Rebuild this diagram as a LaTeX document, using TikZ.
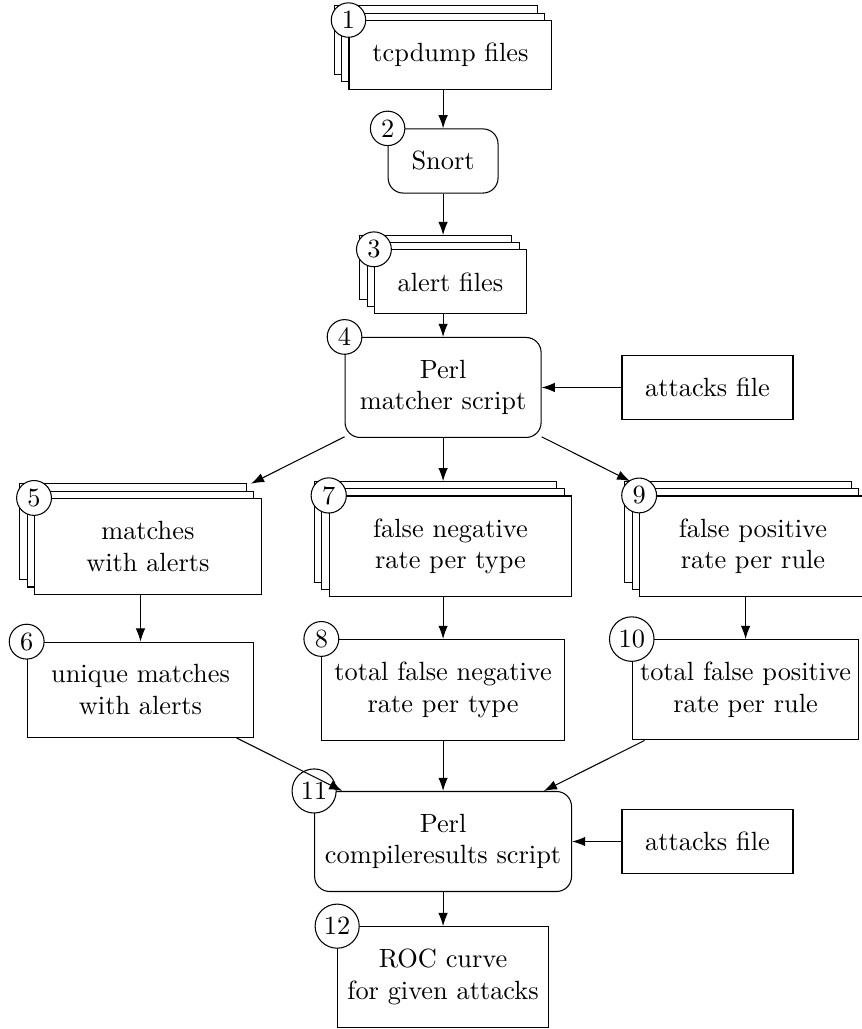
\documentclass[tikz,border=0pt]{standalone}
\usepackage{amsmath}
\usetikzlibrary{arrows,arrows.meta,shadows,positioning}

\begin{document}
\begin{tikzpicture}[>={Latex[length=5pt,width=3.6pt]}]
\tikzstyle{box} = [draw, fill=white, inner xsep=1pt, inner ysep=3mm, align=center]
\tikzstyle{script} = [box, rounded corners=2mm]
\tikzstyle{stack} = [draw, fill=white, outer sep=2.8pt, copy shadow={shadow xshift=-2.8pt, shadow yshift=2.8pt, draw, fill=white}]
\tikzstyle{num} = [draw, circle, fill=white, inner sep=1.7pt, minimum size=12pt, anchor=center]
\useasboundingbox (0,0) rectangle (11.497,-13.725);
% file stacks: back copies + front box with the text
\node[stack, minimum width=77pt, minimum height=26pt] (tcp) at (5.91,-0.634) {};
\node[box, minimum width=77pt, minimum height=26pt, label={[num]north west:1}] (tcp-f) at ([shift={(2.8pt,-2.8pt)}]tcp) {tcpdump files};
\node[script, minimum width=41.7pt, label={[num]north west:2}] (snort) at (5.91,-2.147) {Snort};
\node[stack, minimum width=57.7pt, minimum height=24.3pt] (alf) at (5.91,-3.661) {};
\node[box, minimum width=57.7pt, minimum height=24.3pt, label={[num]north west:3}] (alf-f) at ([shift={(2.8pt,-2.8pt)}]alf) {alert files};
\node[script, minimum width=74.4pt, label={[num]north west:4}] (pms) at (5.91,-5.168) {Perl\\matcher script};
\node[box, minimum width=64.9pt] (att1) at (9.437,-5.168) {attacks file};
% matcher output
\node[stack, minimum width=86pt, minimum height=36.4pt] (mwa) at (1.874,-7.19) {};
\node[box, minimum width=86pt, minimum height=36.4pt, label={[num]north west:5}] (mwa-f) at ([shift={(2.8pt,-2.8pt)}]mwa) {matches\\with alerts};
\node[stack, minimum width=92pt, minimum height=38.3pt] (fnr) at (5.91,-7.19) {};
\node[box, minimum width=92pt, minimum height=38.3pt, label={[num]north west:7}] (fnr-f) at ([shift={(2.8pt,-2.8pt)}]fnr) {false negative\\rate per type};
\node[stack, minimum width=86pt, minimum height=38.3pt] (fpr) at (9.945,-7.19) {};
\node[box, minimum width=86pt, minimum height=38.3pt, label={[num]north west:9}] (fpr-f) at ([shift={(2.8pt,-2.8pt)}]fpr) {false positive\\rate per rule};
% totals
\node[box, minimum width=86pt, label={[num]north west:6}] (ucm) at (1.874,-9.2) {unique matches\\with alerts};
\node[box, minimum width=92pt, label={[num]north west:8}] (tfn) at (5.91,-9.2) {total false negative\\rate per type};
\node[box, minimum width=86pt, label={[num]north west:10}] (tfp) at (9.945,-9.2) {total false positive\\rate per rule};
\node[script, minimum width=97.5pt, label={[num]north west:11}] (crs) at (5.91,-11.224) {Perl\\compileresults script};
\node[box, minimum width=64.9pt] (att2) at (9.437,-11.224) {attacks file};
\node[box, minimum width=80pt, label={[num]north west:12}] (roc) at (5.91,-13.031) {ROC curve\\for given attacks};
\draw[->] (tcp) -- (snort);
\draw[->] (snort) -- (alf);
\draw[->] (alf) -- (pms);
\draw[->] (att1) -- (pms);
\draw[->] (pms) -- (mwa);
\draw[->] (pms) -- (fnr);
\draw[->] (pms) -- (fpr);
\draw[->] (mwa) -- (ucm);
\draw[->] (fnr) -- (tfn);
\draw[->] (fpr) -- (tfp);
\draw[->] (ucm) -- (crs);
\draw[->] (tfn) -- (crs);
\draw[->] (tfp) -- (crs);
\draw[->] (att2) -- (crs);
\draw[->] (crs) -- (roc);
\end{tikzpicture}
\end{document}
